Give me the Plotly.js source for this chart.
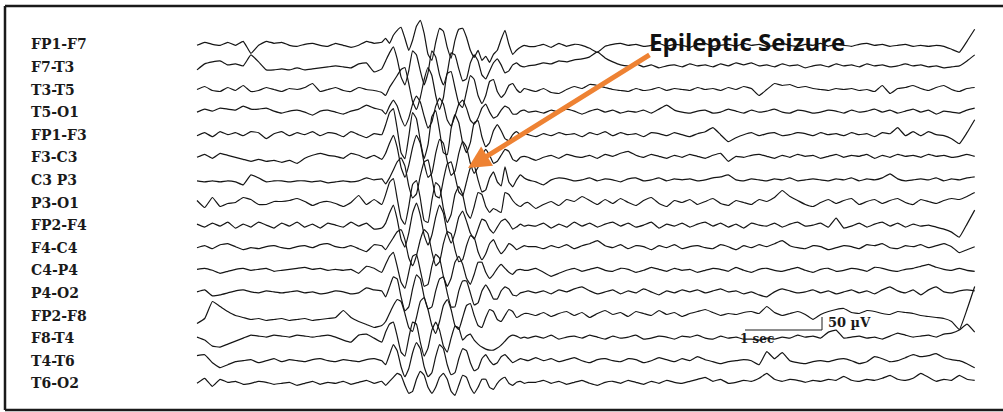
<!DOCTYPE html>
<html>
<head>
<meta charset="utf-8">
<script src="https://cdn.plot.ly/plotly-3.0.1.min.js"></script>
<style>
html,body{margin:0;padding:0;background:#fff;}
#chart{width:1003px;height:412px;}
</style>
</head>
<body>
<div id="chart"></div>
<script>
// ---- Montage (channel labels, top to bottom) ----
const channelLabels = ['FP1-F7','F7-T3','T3-T5','T5-O1','FP1-F3','F3-C3','C3 P3','P3-O1',
                       'FP2-F4','F4-C4','C4-P4','P4-O2','FP2-F8','F8-T4','T4-T6','T6-O2'];

// ---- Sample times (seconds) ----
const timeSec = [
 0.0,0.1,0.2,0.3,0.4,0.5,0.6,0.7,0.8,0.9,1.0,1.1,1.2,1.3,1.4,1.5,1.6,1.7,1.8,1.9,2.0,2.1,2.2,2.3,
 2.40,2.45,2.50,2.55,2.60,2.65,2.70,2.75,2.80,2.85,2.90,2.95,3.00,3.05,3.10,3.15,3.20,3.25,3.30,3.35,
 3.40,3.45,3.50,3.55,3.60,3.65,3.70,3.75,3.80,3.85,3.90,3.95,4.00,4.05,4.10,4.15,4.20,4.25,4.30,
 4.4,4.5,4.6,4.7,4.8,4.9,5.0,5.1,5.2,5.3,5.4,5.5,5.6,5.7,5.8,5.9,6.0,6.1,6.2,6.3,6.4,6.5,6.6,6.7,
 6.8,6.9,7.0,7.1,7.2,7.3,7.4,7.5,7.6,7.7,7.8,7.9,8.0,8.1,8.2,8.3,8.4,8.5,8.6,8.7,8.8,8.9,9.0,9.1,
 9.2,9.3,9.4,9.5,9.6,9.7,9.8,9.9,10.0,10.1
];

// ---- Channel amplitudes (display units, 13 units = 50 µV, positive = up) ----
const FP1_F7 = [-1,2,0,-1,2,-1,3,-9,-1,3,1,2,-1,-2,0,1,-1,-2,1,-1,-3,-1,3,1,
 2,6,1,9,14,17,6,-6,4,18,24,11,-10,-16,2,16,13,-3,-14,4,15,16,7,-6,-13,-6,-16,-12,-18,-10,-6,5,14,0,-10,-6,-3,-1,-2,
 -2,0,-3,1,-2,0,-1,-4,-8,-2, 0,1,-1,0,-2,-1,1,-2,0,-1, -3,0,1,-2,-1,0,-2,1,-1,0, -2,-1,1,-1,-2,0,-1,1,-2,0, -1,-2,0,1,-1,0,-2,-1,0,-2, -1,-2,-1,-2,-5,-8,3,15];
const F7_T3 = [-3,3,5,6,2,3,1,12,5,-3,-3,-2,-3,-1,-3,-2,-1,0,1,0,-1,3,4,-5,
 -2,6,14,20,8,-10,-18,-4,16,12,-4,-18,-6,16,10,-8,-18,-6,14,12,-2,-14,-12,4,12,6,-8,-12,-4,4,8,2,-6,-4,2,4,1,0,1,
 2,4,3,6,5,7,8,10,15,9, 5,2,1,3,0,2,-1,1,2,0, 3,1,2,0,3,1,4,2,4,1, 2,0,3,1,2,-1,1,2,0,3, 1,2,0,3,1,2,0,1,3,1, 2,0,1,-1,0,1,6,12];
const T3_T5 = [0,3,-1,-2,2,-1,4,-2,-1,2,0,-2,1,0,2,6,-2,0,2,-1,-2,2,0,-1,
 -3,-6,2,8,14,20,22,6,-12,-20,-8,10,22,14,-6,-20,-8,16,18,2,-14,-18,-2,14,10,-6,-14,-6,8,10,-2,-8,-4,4,6,0,-3,1,0,
 -2,1,-3,-4,0,3,1,5,4,2, 0,-1,-2,1,-1,0,2,-1,1,0, -1,2,0,1,-1,2,0,3,1,-6, 0,6,4,5,2,3,1,0,-1,1, 0,1,-1,0,-2,4,-4,1,2,4, 1,-1,2,4,0,-2,1,2];
const T5_O1 = [0,3,1,4,3,2,6,3,3,4,1,-1,1,2,0,-3,1,2,0,-2,1,3,7,4,
 2,-2,6,12,6,-6,-14,-6,8,16,10,-4,-16,-10,6,14,8,-8,-14,-4,8,12,4,-8,-12,-6,4,8,0,-6,-4,2,6,4,-2,-2,1,2,0,
 1,-1,2,0,3,1,-2,1,3,0, 2,-1,1,0,2,-1,3,7,2,0, -1,1,2,-1,0,3,1,-1,2,0, 1,3,0,-1,2,1,-1,0,2,1, -1,2,0,1,3,0,2,-1,1,3, 0,2,-2,1,0,-1,2,4];
const FP1_F3 = [-1,2,-2,3,0,2,-1,3,2,-4,1,3,-1,2,0,3,-1,2,1,-2,3,0,-3,1,
 0,10,22,26,6,-18,-24,-2,22,16,-6,-24,-10,18,24,4,-18,-20,6,20,12,-8,-18,-8,12,14,-2,-12,-8,4,10,4,-4,-6,0,3,0,1,0,
 -2,1,-1,2,0,1,-2,2,0,3, -1,2,0,1,-2,2,1,-1,2,0, -2,1,3,7,0,-7,-3,0,2,-1, 1,2,-1,0,2,1,-1,2,0,1, -1,2,0,1,-2,2,1,7,-1,3, -1,3,0,-1,-4,-9,2,15];
const F3_C3 = [0,3,-1,4,2,0,-2,-4,-2,-4,-3,-5,-3,-6,-1,2,4,2,1,-1,4,2,-1,2,
 -2,4,14,22,10,-10,-20,-8,10,22,14,-6,-20,-16,4,18,14,-4,-18,-14,4,16,10,-6,-16,-10,2,8,2,-6,-4,2,8,6,-2,-4,0,1,0,
 -3,0,2,-1,3,1,0,2,-1,3, 1,4,6,2,0,3,1,-1,2,0, 3,1,-1,2,4,-4,1,0,2,3, 1,-1,2,0,3,1,2,-1,1,3, 0,2,1,3,-1,2,0,3,1,2, 0,3,1,2,0,1,3,1];
const C3_P3 = [-1,-2,-1,-2,-1,-2,-5,5,2,-2,-1,-1,-2,-1,-1,-2,-1,-3,-2,-1,-2,-1,2,0,
 1,-4,2,10,18,22,14,-6,-18,-14,4,18,20,2,-16,-18,0,16,18,4,-12,-16,-2,12,14,0,-12,-10,2,8,-2,-6,13,-2,-7,0,5,2,0,
 -2,-5,0,2,1,-1,0,2,-1,1, 0,-2,1,2,-1,0,2,-1,1,0, 1,-1,0,2,3,5,0,-1,1,0, -1,1,0,2,-1,0,1,0,-1,1, 0,2,-1,1,0,2,6,1,-1,0, 1,0,2,-1,1,0,2,3];
const P3_O1 = [2,-5,5,-4,-1,0,5,3,-2,-2,1,1,2,4,1,-3,0,1,-1,-4,0,7,-2,3,
 -2,8,20,24,4,-16,-22,-4,18,22,4,-18,-20,2,20,16,-6,-20,-12,8,16,8,-10,-16,-4,10,8,-4,-10,-6,-8,-10,10,8,2,-2,-4,-1,0,
 -6,-2,1,-3,3,1,6,2,-2,3, -1,4,0,-3,2,5,-1,-4,2,0, 3,-2,1,4,-1,-3,2,0,-2,3, 1,5,12,6,2,-2,-4,0,3,-1, 2,4,-2,1,3,-1,2,4,0,-2, 3,1,-1,2,4,3,6,10];
const FP2_F4 = [1,-2,2,-1,3,-3,1,-2,3,0,-3,2,-1,3,-2,1,-3,2,0,-2,3,-1,2,-4,
 -3,2,12,20,6,-14,-22,-8,12,22,10,-10,-20,-10,8,20,12,-8,-18,-8,8,14,4,-8,-14,-4,6,4,-4,-8,-2,4,6,2,-4,-2,1,-1,0,
 -1,2,-3,1,-2,3,-1,2,-2,1, 3,-1,2,-2,0,3,-3,1,-1,2, -2,1,3,-1,2,-2,1,-3,2,0, -1,2,-2,1,3,-1,0,2,-2,7, -3,-1,2,-2,1,3,-1,2,-2,1, -1,0,-2,-4,-7,-12,1,15];
const F4_C4 = [0,2,-1,3,4,1,-2,0,-1,1,2,0,-1,1,2,0,3,4,1,0,2,-1,-4,3,
 2,-2,4,10,16,18,8,-10,-18,-8,8,18,14,-4,-18,-14,4,16,14,-2,-14,-12,2,12,10,-4,-12,-6,4,8,0,-6,-2,4,2,-2,0,2,1,
 1,-1,2,0,3,-1,2,4,7,2, 0,3,-1,2,1,-2,2,0,3,-1, 1,2,0,-1,3,1,-2,2,0,3, 1,4,7,2,0,-1,2,1,-2,0, 2,1,-1,3,2,4,0,-1,2,1, 3,0,2,4,1,-5,-2,1];
const C4_P4 = [1,2,0,-3,-1,1,2,0,1,2,-1,0,1,2,3,1,2,0,1,0,1,-3,4,2,
 -2,6,14,18,4,-12,-18,-2,14,16,0,-16,-14,4,16,12,-6,-16,-8,8,14,6,-8,-14,-4,8,8,-2,-8,-4,2,6,2,-2,-4,0,1,0,0,
 2,-2,-6,-3,0,2,-1,1,3,0, -1,2,1,-2,0,3,1,-1,2,0, 1,-2,0,2,1,-1,3,0,-2,1, 2,0,-1,1,3,0,-2,1,2,-1, 0,2,1,-1,3,2,0,-1,1,2, 4,6,3,1,0,2,0,-1];
const P4_O2 = [1,3,-3,-2,0,2,3,1,0,2,1,0,1,2,0,1,-1,0,2,1,-1,0,5,3,
 2,-4,6,16,14,-4,-18,-14,4,18,14,-4,-16,-14,2,14,16,0,-14,-14,2,12,12,0,-12,-10,2,8,2,-6,-6,2,6,4,-2,-3,0,1,2,
 0,2,-1,3,1,4,6,2,-1,1, 3,-1,2,0,4,1,-2,2,0,3, 1,3,0,2,4,1,2,-1,1,-2, -4,1,4,2,0,1,3,0,2,-1, 1,3,0,2,-1,3,6,2,0,3, -2,3,6,1,0,2,3,2];
const FP2_F8 = [-8,-3,14,9,4,0,-2,-4,-3,-5,-4,-3,-5,-4,-3,-5,-4,-3,-2,5,-2,-6,-9,-12,
 -10,-6,2,10,16,14,2,-12,-16,-2,14,18,6,-10,-18,-6,10,16,6,-10,-14,-2,10,12,0,-10,-12,-2,6,4,-4,-6,0,6,4,-2,0,2,2,
 0,3,-1,2,4,0,3,-2,2,5, 1,3,-1,4,2,0,5,1,3,-1, 2,4,6,3,0,2,1,3,4,2, 9,3,0,2,4,1,-4,1,4,6, 7,3,2,5,4,2,1,4,3,2, 0,-1,-2,-3,-6,-14,6,29];
const F8_T4 = [1,-2,-8,-9,-6,-3,0,3,2,1,3,2,1,3,2,1,2,3,1,-2,-4,3,4,0,
 -4,6,14,16,2,-14,-18,0,16,14,-4,-18,-10,8,16,8,-8,-14,0,12,10,-2,2,4,-2,-6,-9,-11,-12,-12,-10,-7,-3,1,3,2,0,1,0,
 2,0,3,-1,1,2,0,3,1,-1, 2,0,1,3,-1,0,2,1,-1,2, 1,3,0,-1,2,0,1,-1,-1,-2, 0,-1,1,0,3,1,2,0,6,8, 0,1,2,0,1,-1,2,5,3,1, 2,3,1,4,5,8,14,6];
const T4_T6 = [5,6,-2,-7,-4,-1,0,1,-2,0,2,-1,1,0,-1,1,2,0,-1,1,0,-1,1,2,
 0,-4,6,16,10,-6,-16,-8,8,18,12,-6,-16,-12,4,16,12,-4,-14,-12,2,12,10,-2,-10,-8,2,6,0,-4,-2,4,6,2,-2,0,2,1,0,
 3,0,2,-1,1,3,0,-2,1,2, 0,-1,2,1,-2,0,3,1,-1,2, 0,4,1,-1,-3,-1,0,1,0,-4, 9,2,8,0,-2,-3,-1,0,-1,1, 2,0,-3,-1,4,2,-1,0,3,6, 4,5,7,3,1,0,-3,-7];
const T6_O2 = [0,5,-3,4,1,2,-1,0,2,1,-1,0,1,-2,0,2,-1,1,0,2,-1,1,3,0,
 2,-2,2,6,10,8,-2,-10,-8,4,12,8,-4,-10,-4,6,10,4,-8,-12,-2,8,6,-4,-10,-4,4,4,-4,-6,0,4,6,0,-2,1,2,0,1,
 1,3,0,2,-1,1,3,0,-2,1, 2,0,3,1,-1,2,0,3,1,0, 2,4,6,2,4,0,1,3,2,5, 10,4,2,4,3,1,3,2,4,3, 7,3,2,4,3,5,8,4,3,5, 10,6,2,4,3,8,4,3];

const channelData = [FP1_F7,F7_T3,T3_T5,T5_O1,FP1_F3,F3_C3,C3_P3,P3_O1,
                     FP2_F4,F4_C4,C4_P4,P4_O2,FP2_F8,F8_T4,T4_T6,T6_O2];

// ---- Scale bar values ----
const scaleTimeSec = 1;      // 1 sec
const scaleAmpUnits = 13;    // 50 µV
const scaleLabels = ['1 sec', '50 µV'];
const eventLabel = 'Epileptic Seizure';

// ---- Layout geometry (pixels) ----
const W = 1003, H = 412;
const PX_PER_SEC = 77, T0_PX = 197;
const ROW0 = 44.3, ROW_STEP = 22.6;
const px2t = p => (p - T0_PX) / PX_PER_SEC;

const traces = channelData.map((vals, i) => {
  const base = ROW0 + ROW_STEP * i;
  const n = Math.min(vals.length, timeSec.length);
  return {
    type: 'scatter', mode: 'lines',
    x: timeSec.slice(0, n),
    y: vals.slice(0, n).map(v => base - v),
    line: {color: '#151515', width: 1.2, shape: 'spline', smoothing: 0.35},
    hoverinfo: 'skip', showlegend: false
  };
});

const labelFont = {family: 'DejaVu Serif, Liberation Serif, serif', size: 14, color: '#1a1a1a'};
const annotations = channelLabels.map((lab, i) => ({
  text: '<b>' + lab + '</b>', x: 29 / W, xref: 'paper', xanchor: 'left',
  y: ROW0 + ROW_STEP * i, yref: 'y', yanchor: 'middle',
  showarrow: false, font: labelFont
}));

const sbX0 = px2t(745), sbY = 330;
annotations.push({
  text: '<b>' + scaleLabels[0] + '</b>', x: sbX0 + 0.15, xref: 'x', xanchor: 'center',
  y: 339, yref: 'y', yanchor: 'middle', showarrow: false,
  font: {family: 'DejaVu Serif, serif', size: 12, color: '#1a1a1a'}
});
annotations.push({
  text: '<b>' + scaleLabels[1] + '</b>', x: sbX0 + scaleTimeSec + px2t(826) - px2t(822), xref: 'x', xanchor: 'left',
  y: 322.5, yref: 'y', yanchor: 'middle', showarrow: false,
  font: {family: 'DejaVu Serif, serif', size: 13, color: '#1a1a1a'}
});
annotations.push({
  text: '<b>' + eventLabel + '</b>', x: px2t(746.5), xref: 'x', xanchor: 'center',
  y: 41, yref: 'y', yanchor: 'middle', showarrow: false,
  font: {family: 'Open Sans, sans-serif', size: 24, color: '#111'}
});
annotations.push({
  text: '', x: px2t(468), y: 168, xref: 'x', yref: 'y',
  ax: px2t(651), ay: 54, axref: 'x', ayref: 'y',
  showarrow: true, arrowhead: 2, arrowsize: 0.9, arrowwidth: 5, arrowcolor: '#EE8233'
});

const shapes = [
  {type: 'line', xref: 'x', yref: 'y', x0: sbX0, x1: sbX0 + scaleTimeSec, y0: sbY, y1: sbY, line: {color: '#1a1a1a', width: 1}},
  {type: 'line', xref: 'x', yref: 'y', x0: sbX0 + scaleTimeSec, x1: sbX0 + scaleTimeSec, y0: sbY, y1: sbY - scaleAmpUnits, line: {color: '#1a1a1a', width: 1}},
  {type: 'line', xref: 'x', yref: 'y', x0: px2t(5), x1: px2t(5), y0: 6, y1: 410, line: {color: '#1a1a1a', width: 2.5}},
  {type: 'line', xref: 'x', yref: 'y', x0: px2t(5), x1: px2t(1010), y0: 6, y1: 6, line: {color: '#1a1a1a', width: 2.5}},
  {type: 'line', xref: 'x', yref: 'y', x0: px2t(5), x1: px2t(1010), y0: 410, y1: 410, line: {color: '#1a1a1a', width: 2.5}}
];

const layout = {
  width: W, height: H,
  margin: {l: 0, r: 0, t: 0, b: 0, pad: 0},
  paper_bgcolor: '#fff', plot_bgcolor: '#fff',
  xaxis: {range: [px2t(0), px2t(W)], visible: false, fixedrange: true},
  yaxis: {range: [H, 0], visible: false, fixedrange: true},
  showlegend: false, hovermode: false,
  annotations: annotations, shapes: shapes
};

Plotly.newPlot('chart', traces, layout, {staticPlot: true, displayModeBar: false});
</script>
</body>
</html>
